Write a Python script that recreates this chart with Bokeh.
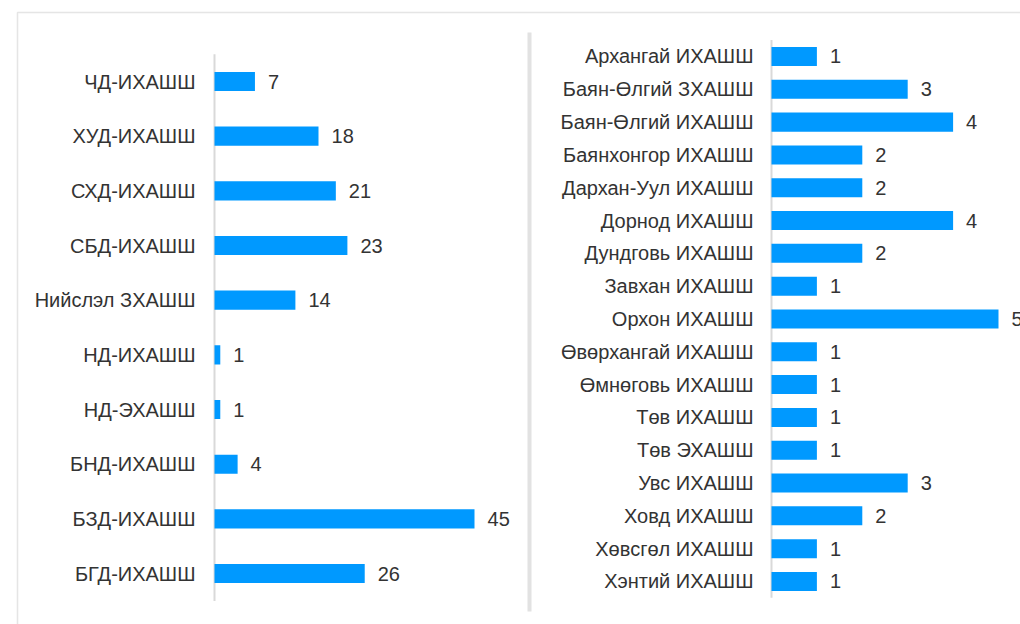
from bokeh.plotting import figure
from bokeh.models import Range1d, BoxAnnotation, ColumnDataSource
from bokeh.core.properties import value
from bokeh.embed import file_html
from bokeh.resources import INLINE

left_cats = ["ЧД-ИХАШШ", "ХУД-ИХАШШ", "СХД-ИХАШШ", "СБД-ИХАШШ", "Нийслэл ЗХАШШ",
             "НД-ИХАШШ", "НД-ЭХАШШ", "БНД-ИХАШШ", "БЗД-ИХАШШ", "БГД-ИХАШШ"]
left_vals = [7, 18, 21, 23, 14, 1, 1, 4, 45, 26]

right_cats = ["Архангай ИХАШШ", "Баян-Өлгий ЗХАШШ", "Баян-Өлгий ИХАШШ", "Баянхонгор ИХАШШ",
              "Дархан-Уул ИХАШШ", "Дорнод ИХАШШ", "Дундговь ИХАШШ", "Завхан ИХАШШ",
              "Орхон ИХАШШ", "Өвөрхангай ИХАШШ", "Өмнөговь ИХАШШ", "Төв ИХАШШ",
              "Төв ЭХАШШ", "Увс ИХАШШ", "Ховд ИХАШШ", "Хөвсгөл ИХАШШ", "Хэнтий ИХАШШ"]
right_vals = [1, 3, 4, 2, 2, 4, 2, 1, 5, 1, 1, 1, 1, 3, 2, 1, 1]

FONT = value("Liberation Sans")
BAR = "#0099ff"
TXT = "#333333"
FS = "20px"

p = figure(width=1020, height=624, output_backend="svg", toolbar_location=None,
           x_range=Range1d(-37.04, 139.5), y_range=Range1d(9.932, -1.4816),
           x_axis_type=None, y_axis_type=None, min_border=0,
           outline_line_color=None, background_fill_color="white")
p.title = None
p.grid.visible = False
p.extra_x_ranges = {"r": Range1d(-16.982, 5.4846)}
p.extra_y_ranges = {"r": Range1d(17.312, -1.7068)}

# frame border (top and left) and separator
p.add_layout(BoxAnnotation(left=17, right=3000, top=12, bottom=3000,
                           left_units="canvas", right_units="canvas",
                           top_units="canvas", bottom_units="canvas",
                           fill_alpha=0, line_color="#a8a8a8", line_width=1.5))
p.add_layout(BoxAnnotation(left=527, right=531, top=32, bottom=611,
                           left_units="canvas", right_units="canvas",
                           top_units="canvas", bottom_units="canvas",
                           fill_color="#e2e2e2", fill_alpha=1, line_alpha=0))

ls = ColumnDataSource(dict(y=list(range(len(left_cats))), v=left_vals, c=left_cats,
                           t=[str(v) for v in left_vals]))
rs = ColumnDataSource(dict(y=list(range(len(right_cats))), v=right_vals, c=right_cats,
                           t=[str(v) for v in right_vals]))

# left panel
p.segment(x0=0, y0=-0.5, x1=0, y1=len(left_cats) - 0.5, line_color="#d9d9d9", line_width=2)
p.hbar(y="y", left=0, right="v", height=0.35, source=ls, fill_color=BAR, line_color=None)
p.text(x=0, y="y", text="c", source=ls, x_offset=-19, text_align="right",
       text_baseline="middle", text_font=FONT, text_font_size=FS, text_color=TXT)
p.text(x="v", y="y", text="t", source=ls, x_offset=13, text_align="left",
       text_baseline="middle", text_font=FONT, text_font_size=FS, text_color=TXT)

# right panel
p.segment(x0=0, y0=-0.5, x1=0, y1=len(right_cats) - 0.5, line_color="#d9d9d9", line_width=2,
          x_range_name="r", y_range_name="r")
p.hbar(y="y", left=0, right="v", height=0.58, source=rs, fill_color=BAR, line_color=None,
       x_range_name="r", y_range_name="r")
p.text(x=0, y="y", text="c", source=rs, x_offset=-18, text_align="right",
       text_baseline="middle", text_font=FONT, text_font_size=FS, text_color=TXT,
       x_range_name="r", y_range_name="r")
p.text(x="v", y="y", text="t", source=rs, x_offset=13, text_align="left",
       text_baseline="middle", text_font=FONT, text_font_size=FS, text_color=TXT,
       x_range_name="r", y_range_name="r")

open("out.html", "w").write(file_html(p, INLINE))
